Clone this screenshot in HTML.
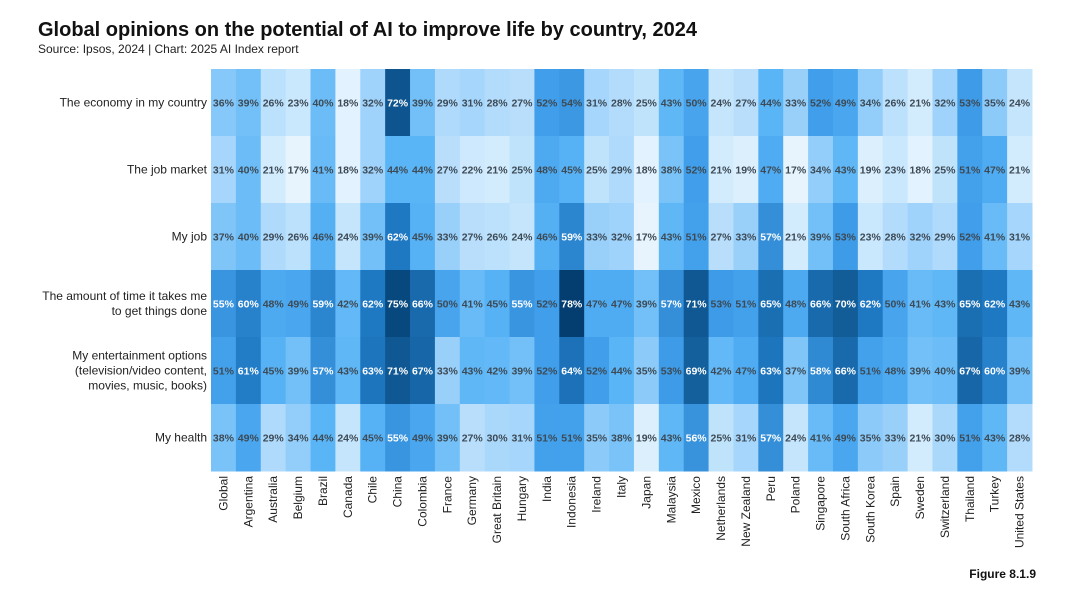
<!DOCTYPE html>
<html><head><meta charset="utf-8"><style>
body{margin:0;background:#fff;width:1080px;height:598px;overflow:hidden;font-family:"Liberation Sans",sans-serif}
</style></head><body>
<svg id="chart" width="1080" height="598" xmlns="http://www.w3.org/2000/svg">
<text x="38" y="36" font-size="20" font-weight="bold" fill="#111">Global opinions on the potential of AI to improve life by country, 2024</text>
<text x="38" y="53" font-size="12" fill="#222">Source: Ipsos, 2024 | Chart: 2025 AI Index report</text>
<text x="1036" y="578" font-size="12" font-weight="bold" text-anchor="end" fill="#111">Figure 8.1.9</text>
<g id="cells"></g><g id="rowlabels"></g><g id="collabels"></g>
</svg>
<script>
const countries=["Global","Argentina","Australia","Belgium","Brazil","Canada","Chile","China","Colombia","France","Germany","Great Britain","Hungary","India","Indonesia","Ireland","Italy","Japan","Malaysia","Mexico","Netherlands","New Zealand","Peru","Poland","Singapore","South Africa","South Korea","Spain","Sweden","Switzerland","Thailand","Turkey","United States"];
const rowLabels=[["The economy in my country"],["The job market"],["My job"],["The amount of time it takes me","to get things done"],["My entertainment options","(television/video content,","movies, music, books)"],["My health"]];
const economy=[36,39,26,23,40,18,32,72,39,29,31,28,27,52,54,31,28,25,43,50,24,27,44,33,52,49,34,26,21,32,53,35,24];
const jobMarket=[31,40,21,17,41,18,32,44,44,27,22,21,25,48,45,25,29,18,38,52,21,19,47,17,34,43,19,23,18,25,51,47,21];
const myJob=[37,40,29,26,46,24,39,62,45,33,27,26,24,46,59,33,32,17,43,51,27,33,57,21,39,53,23,28,32,29,52,41,31];
const timeSaving=[55,60,48,49,59,42,62,75,66,50,41,45,55,52,78,47,47,39,57,71,53,51,65,48,66,70,62,50,41,43,65,62,43];
const entertainment=[51,61,45,39,57,43,63,71,67,33,43,42,39,52,64,52,44,35,53,69,42,47,63,37,58,66,51,48,39,40,67,60,39];
const health=[38,49,29,34,44,24,45,55,49,39,27,30,31,51,51,35,38,19,43,56,25,31,57,24,41,49,35,33,21,30,51,43,28];
const rows=[economy,jobMarket,myJob,timeSaving,entertainment,health];

const X0=211,X1=1032,Y0=69,Y1=471;
const cw=(X1-X0)/countries.length, ch=(Y1-Y0)/rows.length;
const xs=i=>X0+i*cw, ys=j=>Y0+j*ch;
const stops=[[16,[236,246,254]],[21,[210,235,253]],[31,[166,214,251]],[40,[108,189,247]],[44,[90,181,246]],[52,[64,158,234]],[56,[56,146,220]],[62,[31,120,194]],[70,[18,92,152]],[75,[7,73,127]],[79,[3,58,108]]];
function color(v){
  for(let k=0;k<stops.length-1;k++){const [a,ca]=stops[k],[b,cb]=stops[k+1];
    if(v<=b||k==stops.length-2){const t=Math.max(0,Math.min(1,(v-a)/(b-a)));
      return 'rgb('+ca.map((c,i)=>Math.round(c+(cb[i]-c)*t)).join(',')+')';}}
}
const NS='http://www.w3.org/2000/svg';
const gc=document.getElementById('cells');
rows.forEach((r,j)=>r.forEach((v,i)=>{
  const rect=document.createElementNS(NS,'rect');
  rect.setAttribute('x',xs(i));rect.setAttribute('y',ys(j));
  rect.setAttribute('width',cw+0.5);rect.setAttribute('height',ch+0.5);
  rect.setAttribute('fill',color(v));
  
  
  gc.appendChild(rect);
  const t=document.createElementNS(NS,'text');
  t.setAttribute('x',xs(i)+cw/2);t.setAttribute('y',ys(j)+ch/2+4);
  t.setAttribute('text-anchor','middle');t.setAttribute('font-size','10.5');
  t.setAttribute('font-weight','600');
  t.setAttribute('fill',v>=55?'#fff':'#3d4a55');
  
  
  t.textContent=v+'%';gc.appendChild(t);
}));
const gr=document.getElementById('rowlabels');
rowLabels.forEach((lines,j)=>{
  const cy=ys(j)+ch/2, lh=15, start=cy-(lines.length-1)*lh/2+4;
  lines.forEach((l,k)=>{
    const t=document.createElementNS(NS,'text');
    t.setAttribute('x',207);t.setAttribute('y',start+k*lh);
    t.setAttribute('text-anchor','end');t.setAttribute('font-size','12');t.setAttribute('fill','#222');
    
    
    t.textContent=l;gr.appendChild(t);
  });
});
const gx=document.getElementById('collabels');
countries.forEach((c,i)=>{
  const t=document.createElementNS(NS,'text');
  const x=xs(i)+cw/2+4,y=476;
  t.setAttribute('x',x);t.setAttribute('y',y);
  t.setAttribute('transform','rotate(-90 '+x+' '+y+')');
  t.setAttribute('text-anchor','end');t.setAttribute('font-size','12');t.setAttribute('fill','#222');
  
  
  t.textContent=c;gx.appendChild(t);
});
</script>
</body></html>
